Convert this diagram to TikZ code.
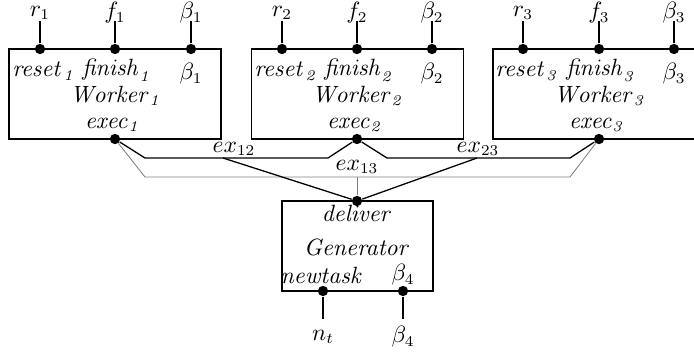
\documentclass[tikz,border=0pt]{standalone}
\begin{document}
\begin{tikzpicture}[x=0.465pt,y=-0.465pt,
  every node/.style={font=\fontsize{10.5}{12.5}\selectfont},
  port/.style={circle,fill=black,inner sep=0pt,minimum size=4.8pt},
  wbox/.style={draw,line width=0.6pt,minimum width={212*0.465pt},minimum height={90*0.465pt},inner sep=0pt},
  gbox/.style={draw,line width=0.6pt,minimum width={151*0.465pt},minimum height={90*0.465pt},inner sep=0pt},
  wire/.style={line width=0.6pt},
  gwire/.style={gray,line width=0.4pt},
  lbl/.style={inner sep=0pt}]
\clip (0,0) rectangle (694,355);
% worker boxes
\node[wbox] (w1) at (115,94) {};
\node[wbox] (w2) at (357.5,94) {};
\node[wbox] (w3) at (599,94) {};
\node[gbox] (g) at (357.5,246) {};
% worker ports and labels
\foreach \i/\r/\f/\b in {1/40/115/191, 2/282/357/432, 3/523/599/674}{
  \node[port] (rs\i) at (\r,49) {};
  \node[port] (fn\i) at (\f,49) {};
  \node[port] (bt\i) at (\b,49) {};
  \coordinate (rt\i) at (\r,21);
  \coordinate (ft\i) at (\f,21);
  \coordinate (btt\i) at (\b,21);
  \draw[wire] (rs\i) -- (rt\i);
  \draw[wire] (fn\i) -- (ft\i);
  \draw[wire] (bt\i) -- (btt\i);
  \node[lbl] (rl\i) at (\r,13) {$r_\i$};
  \node[lbl] (fl\i) at (\f,13) {$f_\i$};
  \node[lbl] (bl\i) at (\b,13) {$\beta_\i$};
  \node[lbl] (ri\i) at (\r+4,71) {$\mathit{reset}_{\kern0.5pt\mathit{\i}}$};
  \node[lbl] (fi\i) at (\f+2,70) {$\mathit{finish}_{\mathit{\i}}$};
  \node[lbl] (bi\i) at (\b,74) {$\beta_\i$};
  \node[lbl] (wn\i) at (\f+1,96) {$\mathit{Worker}_{\mathit{\i}}$};
  \node[lbl] (el\i) at (\f-2,125) {$\mathit{exec}_{\mathit{\i}}$};
  \node[port] (e\i) at (\f,139) {};
}
% generator
\node[port] (del) at (357,201) {};
\node[lbl] (dl) at (357,213) {$\mathit{deliver}$};
\node[lbl] (gn) at (357,247) {$\mathit{Generator}$};
\node[lbl] (nl) at (322,275) {$\mathit{newtask}$};
\node[lbl] (b4i) at (403,275) {$\beta_4$};
\node[port] (nt) at (323,291) {};
\node[port] (b4) at (403,291) {};
\coordinate (ntb) at (323,319);
\coordinate (b4b) at (403,319);
\draw[wire] (nt) -- (ntb);
\draw[wire] (b4) -- (b4b);
\node[lbl] (ntl) at (323,337) {$n_t$};
\node[lbl] (b4l) at (403,337) {$\beta_4$};
% channels
\coordinate (a1) at (145,158);
\coordinate (a2) at (328,158);
\coordinate (a3) at (387,158);
\coordinate (a4) at (570,158);
\coordinate (c1) at (145,177);
\coordinate (c2) at (570,177);
\coordinate (c3) at (357,177);
\coordinate (m12) at (223,158);
\coordinate (m23) at (477,158);
\draw[gwire] (e1) -- (c1) -- (c2) -- (e3);
\draw[gwire] (c3) -- (del);
\draw[wire] (e1) -- (a1) -- (a2) -- (e2);
\draw[wire] (e2) -- (a3) -- (a4) -- (e3);
\draw[wire] (m12) -- (del);
\draw[wire] (m23) -- (del);
\node[lbl] (x12) at (234,149) {$ex_{12}$};
\node[lbl] (x23) at (478,149) {$ex_{23}$};
\node[lbl] (x13) at (357,167) {$ex_{13}$};
\end{tikzpicture}
\end{document}
